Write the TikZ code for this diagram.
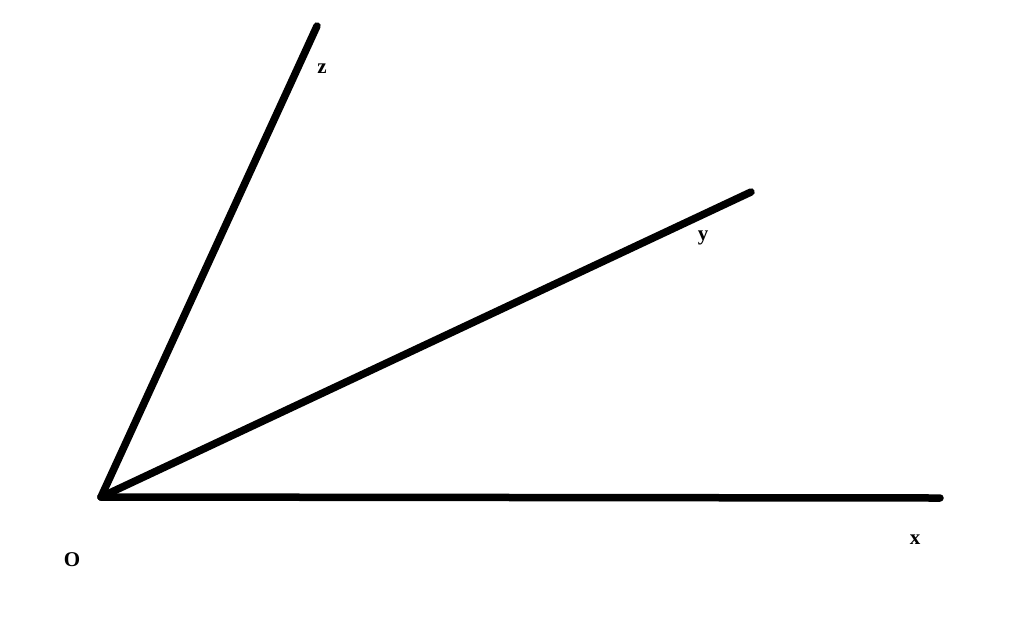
\documentclass[tikz,border=0pt]{standalone}
\usepackage{fontspec}
\setmainfont{Liberation Serif}
\usepackage{tikz}

\begin{document}
\begin{tikzpicture}[x=1pt,y=-1pt,
  axis/.style={line width=7.5pt,line cap=round,line join=round},
  lbl/.style={font=\fontsize{21}{24}\selectfont\bfseries,inner sep=0pt}]
  \useasboundingbox (0,0) rectangle (1024,641);
  \coordinate (O) at (101,497);
  \coordinate (X) at (940,498);
  \coordinate (Y) at (751,192);
  \coordinate (Z) at (317,26);
  \draw[axis] (O) -- (X);
  \draw[axis] (O) -- (Y);
  \draw[axis] (O) -- (Z);
  \node[lbl] (lo) at (72,560) {O};
  \node[lbl] (lx) at (915,540) {x};
  \node[lbl] (ly) at (703,238) {y};
  \node[lbl] (lz) at (322,69) {z};
\end{tikzpicture}
\end{document}
